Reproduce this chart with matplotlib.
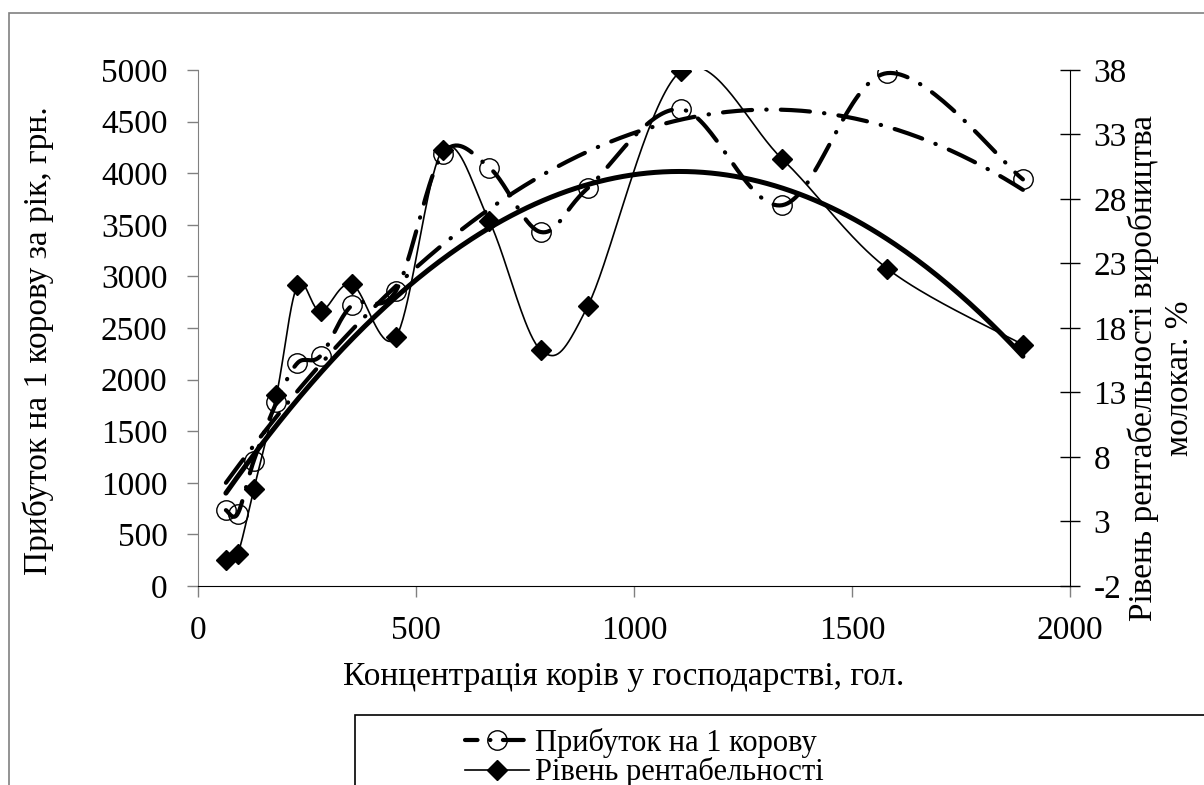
import numpy as np
import matplotlib
matplotlib.use("Agg")
import matplotlib.pyplot as plt
from matplotlib.lines import Line2D
from matplotlib.patches import Rectangle

plt.rcParams['font.family'] = 'serif'
plt.rcParams['font.serif'] = ['Liberation Serif', 'Times New Roman', 'DejaVu Serif']

# ---------------- data ----------------
herd_size = [64, 91, 128, 180, 228, 281, 353, 454, 561, 668, 786, 894, 1107, 1340, 1581, 1892]
profit_per_cow = [735, 700, 1215, 1780, 2160, 2230, 2720, 2860, 4185, 4055, 3430, 3855, 4620, 3690, 4970, 3940]
profitability = [0.0, 0.5, 5.5, 12.8, 21.3, 19.3, 21.4, 17.3, 31.8, 26.3, 16.3, 19.7, 37.9, 31.1, 22.6, 16.7]

x_ticks = [0, 500, 1000, 1500, 2000]
left_ticks = [0, 500, 1000, 1500, 2000, 2500, 3000, 3500, 4000, 4500, 5000]
right_ticks = [-2, 3, 8, 13, 18, 23, 28, 33, 38]

label_profit = "Прибуток на 1 корову"
label_rent = "Рівень рентабельності"
xlabel = "Концентрація корів у господарстві, гол."
ylabel_right_1 = "Рівень рентабельності виробництва"
ylabel_right_2 = "молокаг. %"
ylabel_left = "Прибуток на 1 корову за рік, грн."

W, H = 1204, 785
fig = plt.figure(figsize=(W / 100, H / 100), dpi=100)

ax_l, ax_r, ax_b, ax_t = 198, 1070, 586, 70
ax = fig.add_axes([ax_l / W, 1 - ax_b / H, (ax_r - ax_l) / W, (ax_b - ax_t) / H])
ax2 = ax.twinx()

XLIM = (0, 2000)
YLIM = (0, 5000)
Y2LIM = (-2, 38)
ax.set_xlim(*XLIM)
ax.set_ylim(*YLIM)
ax2.set_ylim(*Y2LIM)

PW, PH = ax_r - ax_l, ax_b - ax_t


def smooth(xs, ys, ylim, n=40):
    """Excel-like smoothed line (Catmull-Rom Bezier) computed in pixel space."""
    xs = np.asarray(xs, float)
    ys = np.asarray(ys, float)
    px = (xs - XLIM[0]) / (XLIM[1] - XLIM[0]) * PW
    py = (ys - ylim[0]) / (ylim[1] - ylim[0]) * PH
    P = np.column_stack([px, py])
    out = []
    m = len(P)
    t = np.linspace(0, 1, n)[:, None]
    for i in range(m - 1):
        p0 = P[i - 1] if i > 0 else P[i]
        p1 = P[i]
        p2 = P[i + 1]
        p3 = P[i + 2] if i + 2 < m else P[i + 1]
        c1 = p1 + (p2 - p0) / 6.0
        c2 = p2 - (p3 - p1) / 6.0
        seg = ((1 - t) ** 3) * p1 + 3 * ((1 - t) ** 2) * t * c1 + 3 * (1 - t) * t ** 2 * c2 + t ** 3 * p2
        out.append(seg if i == 0 else seg[1:])
    S = np.vstack(out)
    sx = S[:, 0] / PW * (XLIM[1] - XLIM[0]) + XLIM[0]
    sy = S[:, 1] / PH * (ylim[1] - ylim[0]) + ylim[0]
    return sx, sy


dashdot = (0, (7, 3.4, 0.1, 3.4))
lw_dd = 3.0

# profit series (left axis)
sx, sy = smooth(herd_size, profit_per_cow, YLIM)
ax.plot(sx, sy, color='black', lw=lw_dd, linestyle=dashdot, dash_capstyle='round', zorder=3)

# trendline for profit (polynomial, order 2)
xx = np.linspace(min(herd_size), max(herd_size), 300)
cp = np.polyfit(herd_size, profit_per_cow, 2)
ax.plot(xx, np.polyval(cp, xx), color='black', lw=lw_dd, linestyle=dashdot, dash_capstyle='round', zorder=3)

ax.plot(herd_size, profit_per_cow, linestyle='none', marker='o', ms=14, mfc='none',
        mec='black', mew=1.0, zorder=4)

# profitability series (right axis)
sx2, sy2 = smooth(herd_size, profitability, Y2LIM)
ax2.plot(sx2, sy2, color='black', lw=1.2, zorder=3)
cr = np.polyfit(herd_size, profitability, 2)
ax2.plot(xx, np.polyval(cr, xx), color='black', lw=3.6, solid_capstyle='round', zorder=3)
ax2.plot(herd_size, profitability, linestyle='none', marker='D', ms=10.5, mfc='black',
         mec='black', zorder=5)

# axes styling
ax.set_xticks(x_ticks)
ax.set_yticks(left_ticks)
ax2.set_yticks(right_ticks)
ax.set_xticklabels([str(v) for v in x_ticks])
ax.set_yticklabels([str(v) for v in left_ticks])
ax2.set_yticklabels([str(v) for v in right_ticks])

for a in (ax, ax2):
    a.spines['top'].set_visible(False)
ax.spines['right'].set_visible(False)
ax2.spines['left'].set_visible(False)
ax2.spines['bottom'].set_visible(False)
ax.spines['left'].set_color('#808080')
ax.spines['bottom'].set_color('black')
ax2.spines['right'].set_color('black')
ax.tick_params(axis='y', direction='out', length=8, width=1, color='#808080', labelsize=24, pad=14)
ax.tick_params(axis='x', direction='out', length=8, width=1, color='#808080', labelsize=24, pad=13)
ax2.tick_params(axis='y', direction='inout', length=14, width=1, color='black', labelsize=24, pad=10)

# axis titles
fig.text(624 / W, 1 - 677 / H, xlabel, ha='center', va='center', fontsize=24)
fig.text(38 / W, 1 - 341 / H, ylabel_left, ha='center', va='center', rotation=90, fontsize=24)
fig.text(1143 / W, 1 - 368 / H, ylabel_right_1, ha='center', va='center', rotation=90, fontsize=24)
fig.text(1180 / W, 1 - 378 / H, ylabel_right_2, ha='center', va='center', rotation=90, fontsize=24)

# outer chart border (extends beyond the picture)
fig.patches.append(Rectangle((9 / W, -0.2), 1.3, 1 - 13 / H + 0.2, transform=fig.transFigure,
                             fill=False, edgecolor='#808080', lw=1.2, clip_on=False))

# legend box (extends beyond the picture)
fig.patches.append(Rectangle((355 / W, -0.3), 1.0, 1 - 715 / H + 0.3, transform=fig.transFigure,
                             fill=False, edgecolor='black', lw=1.2, clip_on=False))

h1 = Line2D([], [], color='black', lw=lw_dd, linestyle=(2, (5, 3, 0.1, 3)), dash_capstyle='round',
            marker='o', ms=14, mfc='none', mec='black', mew=1.0)
h2 = Line2D([], [], color='black', lw=1.2, marker='D', ms=10.5, mfc='black', mec='black')
fig.legend([h1, h2], [label_profit, label_rent], loc='upper left',
           bbox_to_anchor=(465 / W, 1 - 728 / H), frameon=False, fontsize=22,
           handlelength=2.1, handletextpad=0.2, labelspacing=-0.02, borderpad=0,
           borderaxespad=0)

fig.savefig('out.png', dpi=100, facecolor='white')
